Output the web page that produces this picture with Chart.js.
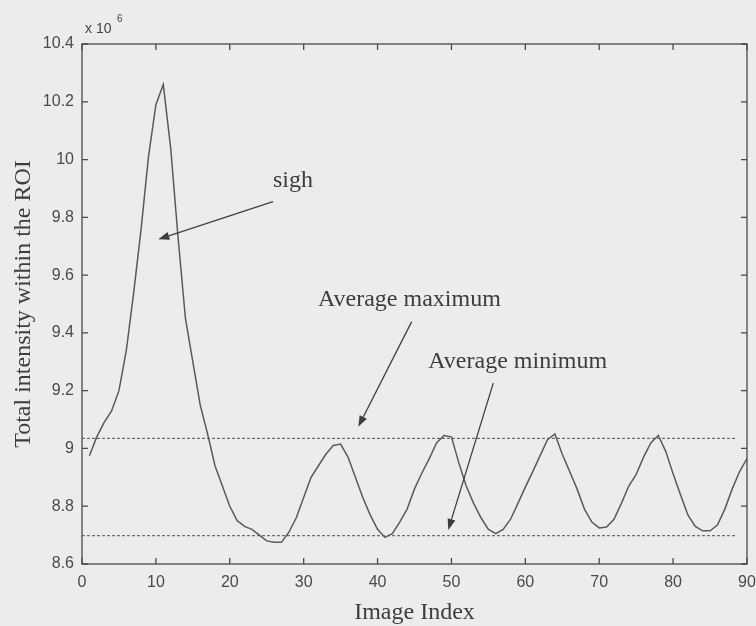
<!DOCTYPE html>
<html>
<head>
<meta charset="utf-8">
<script src="https://cdn.jsdelivr.net/npm/chart.js@4.4.1/dist/chart.umd.min.js"></script>
<style>
  html, body { margin: 0; padding: 0; background: #ececea; }
  #wrap { width: 756px; height: 626px; }
</style>
</head>
<body>
<div id="wrap"><canvas id="chart"></canvas></div>
<script>
// Total intensity within the ROI (x 10^6), one value per image
const intensity = [
  8.975, 9.04, 9.09, 9.13, 9.20, 9.34, 9.54, 9.76, 10.01, 10.19,
  10.26, 10.04, 9.73, 9.45, 9.30, 9.15, 9.05, 8.94, 8.87, 8.80,
  8.75, 8.73, 8.72, 8.70, 8.68, 8.675, 8.675, 8.71, 8.76, 8.83,
  8.90, 8.94, 8.98, 9.01, 9.015, 8.97, 8.90, 8.83, 8.77, 8.72,
  8.692, 8.705, 8.745, 8.79, 8.86, 8.915, 8.965, 9.02, 9.045, 9.04,
  8.95, 8.87, 8.81, 8.76, 8.72, 8.705, 8.72, 8.755, 8.81, 8.866,
  8.92, 8.975, 9.03, 9.05, 8.98, 8.92, 8.86, 8.79, 8.745, 8.725,
  8.728, 8.755, 8.81, 8.87, 8.91, 8.97, 9.02, 9.045, 8.99, 8.912,
  8.84, 8.77, 8.73, 8.715, 8.715, 8.735, 8.79, 8.86, 8.92, 8.965
];
const imageIndex = intensity.map((_, i) => i + 1);

// reference levels (dashed lines)
const avgMaxLine = { x: [0, 88.5], y: 9.035 };
const avgMinLine = { x: [0, 88.5], y: 8.698 };

// axis ticks
const xTicks = [0, 10, 20, 30, 40, 50, 60, 70, 80, 90];
const yTicks = [8.6, 8.8, 9.0, 9.2, 9.4, 9.6, 9.8, 10.0, 10.2, 10.4];
const yTickLabels = ["8.6", "8.8", "9", "9.2", "9.4", "9.6", "9.8", "10", "10.2", "10.4"];

// annotations: text anchor and arrow tail/tip, in data units
const notes = [
  { text: "sigh", at: [25.85, 9.906], from: [25.85, 9.854], to: [10.33, 9.724] },
  { text: "Average maximum", at: [31.94, 9.493], from: [44.62, 9.439], to: [37.39, 9.075] },
  { text: "Average minimum", at: [46.87, 9.278], from: [55.66, 9.226], to: [49.57, 8.718] }
];

const INK = "#3d3d3d";
const SERIF = "'Liberation Serif', 'Times New Roman', serif";
const SANS = "'Liberation Sans', Arial, sans-serif";

const paper = {
  id: "paper",
  beforeDraw(chart) {
    const { ctx, width, height } = chart;
    ctx.save();
    ctx.fillStyle = "#ececea";
    ctx.fillRect(0, 0, width, height);
    ctx.restore();
  }
};

// matlab style box with inward ticks on all four sides
const frame = {
  id: "frame",
  afterDatasetsDraw(chart) {
    const { ctx, chartArea: a, scales: { x, y } } = chart;
    const len = 6;
    ctx.save();
    ctx.strokeStyle = "#4a4a4a";
    ctx.lineWidth = 1.3;
    ctx.strokeRect(a.left, a.top, a.right - a.left, a.bottom - a.top);
    ctx.beginPath();
    x.ticks.forEach((t) => {
      const px = x.getPixelForValue(t.value);
      ctx.moveTo(px, a.bottom); ctx.lineTo(px, a.bottom - len);
      ctx.moveTo(px, a.top); ctx.lineTo(px, a.top + len);
    });
    y.ticks.forEach((t) => {
      const py = y.getPixelForValue(t.value);
      ctx.moveTo(a.left, py); ctx.lineTo(a.left + len, py);
      ctx.moveTo(a.right, py); ctx.lineTo(a.right - len, py);
    });
    ctx.stroke();

    // exponent label
    ctx.fillStyle = "#444";
    ctx.textBaseline = "alphabetic";
    ctx.font = "14px " + SANS;
    ctx.fillText("x 10", a.left + 3, a.top - 11);
    ctx.font = "10px " + SANS;
    ctx.fillText("6", a.left + 35, a.top - 22);
    ctx.restore();
  }
};

const annotations = {
  id: "annotations",
  afterDraw(chart) {
    const { ctx, scales: { x, y } } = chart;
    ctx.save();
    ctx.font = "24px " + SERIF;
    ctx.fillStyle = INK;
    ctx.strokeStyle = "#404040";
    ctx.lineWidth = 1.3;
    ctx.textBaseline = "alphabetic";
    notes.forEach((n) => {
      ctx.fillText(n.text, x.getPixelForValue(n.at[0]), y.getPixelForValue(n.at[1]));
      const x0 = x.getPixelForValue(n.from[0]), y0 = y.getPixelForValue(n.from[1]);
      const x1 = x.getPixelForValue(n.to[0]), y1 = y.getPixelForValue(n.to[1]);
      const ang = Math.atan2(y1 - y0, x1 - x0);
      const hl = 11, hw = 4;
      const bx = x1 - hl * Math.cos(ang), by = y1 - hl * Math.sin(ang);
      ctx.beginPath();
      ctx.moveTo(x0, y0);
      ctx.lineTo(bx, by);
      ctx.stroke();
      ctx.beginPath();
      ctx.moveTo(x1, y1);
      ctx.lineTo(bx + hw * Math.sin(ang), by - hw * Math.cos(ang));
      ctx.lineTo(bx - hw * Math.sin(ang), by + hw * Math.cos(ang));
      ctx.closePath();
      ctx.fill();
    });
    ctx.restore();
  }
};

const refLine = (line) => ({
  data: line.x.map((v) => ({ x: v, y: line.y })),
  borderColor: "#505050",
  borderWidth: 1,
  borderDash: [3, 2],
  pointRadius: 0,
  fill: false
});

new Chart(document.getElementById("chart").getContext("2d"), {
  type: "line",
  data: {
    datasets: [
      {
        data: imageIndex.map((v, i) => ({ x: v, y: intensity[i] })),
        borderColor: "#5a5a5a",
        borderWidth: 1.5,
        pointRadius: 0,
        tension: 0,
        fill: false
      },
      refLine(avgMaxLine),
      refLine(avgMinLine)
    ]
  },
  options: {
    responsive: true,
    maintainAspectRatio: false,
    animation: false,
    layout: { padding: { top: 44, right: 0, bottom: 0, left: 0 } },
    plugins: {
      legend: { display: false },
      tooltip: { enabled: false }
    },
    scales: {
      x: {
        type: "linear",
        min: 0,
        max: 90,
        afterBuildTicks: (scale) => { scale.ticks = xTicks.map((v) => ({ value: v })); },
        afterFit: (scale) => {
          scale.height = 62;
          // let the last label run to the edge like the original
          scale.paddingRight = 9;
          scale.paddingLeft = 0;
        },
        grid: { display: false, drawTicks: false },
        border: { display: false },
        ticks: {
          padding: 9,
          color: "#4a4a4a",
          font: { family: SANS, size: 16 },
          maxRotation: 0,
          callback: (v) => String(v)
        },
        title: {
          display: true,
          text: "Image Index",
          color: INK,
          font: { family: SERIF, size: 24, lineHeight: 1 },
          padding: { top: 0, bottom: 1 }
        }
      },
      y: {
        min: 8.6,
        max: 10.4,
        afterBuildTicks: (scale) => { scale.ticks = yTicks.map((v) => ({ value: v })); },
        afterFit: (scale) => { scale.width = 82; },
        grid: { display: false, drawTicks: false },
        border: { display: false },
        ticks: {
          padding: 8,
          color: "#4a4a4a",
          font: { family: SANS, size: 16 },
          callback: (v, i) => yTickLabels[i]
        },
        title: {
          display: true,
          text: "Total intensity within the ROI",
          color: INK,
          font: { family: SERIF, size: 24, lineHeight: 1 },
          padding: { top: 12, bottom: 0 }
        }
      }
    }
  },
  plugins: [paper, frame, annotations]
});
</script>
</body>
</html>
